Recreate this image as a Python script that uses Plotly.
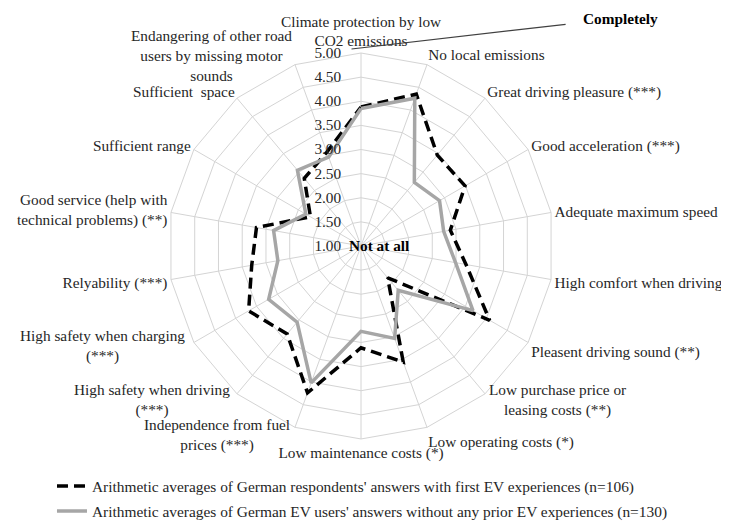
import plotly.graph_objects as go

# categories, clockwise from the top
categories = [
    "Climate protection by low CO2 emissions",
    "No local emissions",
    "Great driving pleasure (***)",
    "Good acceleration (***)",
    "Adequate maximum speed",
    "High comfort when driving",
    "Pleasent driving sound (**)",
    "Low purchase price or leasing costs (**)",
    "Low operating costs (*)",
    "Low maintenance costs (*)",
    "Independence from fuel prices (***)",
    "High safety when driving (***)",
    "High safety when charging (***)",
    "Relyability (***)",
    "Good service (help with technical problems) (**)",
    "Sufficient range",
    "Sufficient  space",
    "Endangering of other road users by missing motor sounds",
]

# wrapped label text as printed on the chart
label_text = [
    "Climate protection by low<br>CO2 emissions",
    "No local emissions",
    "Great driving pleasure (***)",
    "Good acceleration (***)",
    "Adequate maximum speed",
    "High comfort when driving",
    "Pleasent driving sound (**)",
    "Low purchase price or<br>leasing costs (**)",
    "Low operating costs (*)",
    "Low maintenance costs (*)",
    "Independence from fuel<br>prices (***)",
    "High safety when driving<br>(***)",
    "High safety when charging<br>(***)",
    "Relyability (***)",
    "Good service (help with<br>technical problems) (**)",
    "Sufficient range",
    "Sufficient  space",
    "Endangering of other road<br>users by missing motor<br>sounds",
]

first_ev = [3.88, 4.35, 3.46, 3.49, 2.88, 3.21, 4.08, 1.86, 3.56, 3.11,
            4.24, 3.38, 3.69, 3.30, 3.20, 2.21, 2.83, 3.07]
no_prior = [3.85, 4.26, 2.72, 2.88, 2.74, 2.99, 3.68, 2.20, 3.04, 2.77,
            4.02, 3.06, 3.21, 2.75, 2.84, 2.32, 3.05, 2.96]

radial_ticks = [1.0, 1.5, 2.0, 2.5, 3.0, 3.5, 4.0, 4.5, 5.0]

FONT = "Liberation Serif"
GRID = "#d4d4d4"
TEXT = "#262626"

# wrapped labels that Excel centres around their spoke; placed as centred
# annotations instead of angular tick labels (paper coords)
centred_labels = {
    7: (0.7628, 0.2476),
    10: (0.2899, 0.1804),
    11: (0.1997, 0.2476),
    12: (0.1304, 0.3503),
    17: (0.2816, 0.9079),
}
tick_text = [
    "" if i in centred_labels else t for i, t in enumerate(label_text)
]

fig = go.Figure()

fig.add_trace(
    go.Scatterpolar(
        r=first_ev + first_ev[:1],
        theta=categories + categories[:1],
        mode="lines",
        line=dict(color="black", width=3.5, dash="11px,6px"),
        legendgroup="a",
        name="Arithmetic averages of German respondents' answers with first EV experiences (n=106)",
    )
)
fig.add_trace(
    go.Scatterpolar(
        r=no_prior + no_prior[:1],
        theta=categories + categories[:1],
        mode="lines",
        line=dict(color="#a6a6a6", width=3.5),
        legendgroup="b",
        name="Arithmetic averages of German EV users' answers without any prior EV experiences (n=130)",
    )
)

# page body has an 8px margin, so the figure is 8px smaller than the window
fig.update_layout(
    width=721,
    height=521,
    margin=dict(l=0, r=0, t=0, b=0),
    paper_bgcolor="white",
    plot_bgcolor="white",
    font=dict(family=FONT, size=15.3, color=TEXT),
    polar=dict(
        domain=dict(x=[0.2219, 0.7573], y=[0.1728, 0.9136]),
        bgcolor="white",
        gridshape="linear",
        angularaxis=dict(
            direction="clockwise",
            rotation=90,
            tickmode="array",
            tickvals=categories,
            ticktext=tick_text,
            gridcolor=GRID,
            linecolor=GRID,
            linewidth=1,
            ticks="",
            tickfont=dict(family=FONT, size=15.3, color=TEXT),
        ),
        radialaxis=dict(
            range=[1, 5],
            angle=90,
            tickangle=90,
            tickvals=radial_ticks,
            tickformat=".2f",
            gridcolor=GRID,
            showline=False,
            ticks="outside",
            ticklen=14,
            tickcolor="rgba(0,0,0,0)",
            side="counterclockwise",
            tickfont=dict(family=FONT, size=15.3, color=TEXT),
        ),
    ),
    showlegend=True,
    legend=dict(
        x=0.061,
        y=0.001,
        xanchor="left",
        yanchor="bottom",
        font=dict(family=FONT, size=15.4, color=TEXT),
        bgcolor="rgba(0,0,0,0)",
        tracegroupgap=2,
    ),
)

for i, (lx, ly) in centred_labels.items():
    fig.add_annotation(
        x=lx, y=ly, xref="paper", yref="paper",
        xanchor="center", yanchor="middle", align="center",
        text=label_text[i], showarrow=False,
        font=dict(family=FONT, size=15.3, color=TEXT),
    )

# "Completely" label with leader line to the 5.00 tick
fig.add_annotation(
    x=0.850, y=0.979, xref="paper", yref="paper",
    xanchor="center", yanchor="middle",
    text="<b>Completely</b>", showarrow=False,
    font=dict(family=FONT, size=15.3, color="black"),
)
fig.add_shape(
    type="line", xref="paper", yref="paper",
    x0=0.4764, y0=0.9213, x1=0.7734, y1=0.9687,
    line=dict(color="#404040", width=1.2),
)
# "Not at all" at the centre
fig.add_annotation(
    x=0.5146, y=0.5432, xref="paper", yref="paper",
    xanchor="center", yanchor="middle",
    text="<b>Not at all</b>", showarrow=False,
    font=dict(family=FONT, size=15.3, color="black"),
)

fig.write_html("out.html")
